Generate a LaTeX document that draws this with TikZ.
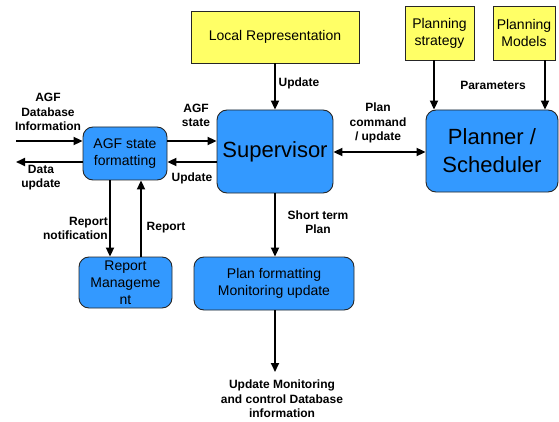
\documentclass[tikz,border=0pt]{standalone}
\usepackage{fontspec}
\setmainfont{Liberation Sans}
\usetikzlibrary{arrows.meta}
\definecolor{boxblue}{HTML}{3399FF}
\definecolor{boxyellow}{HTML}{FFFF66}
\tikzset{
  bluebox/.style={draw=black!85, line width=0.9pt, fill=boxblue, rounded corners=10pt,
    align=center, inner sep=2pt, font=\fontsize{14}{17}\selectfont},
  yellowbox/.style={draw=black!85, line width=0.9pt, fill=boxyellow,
    align=center, inner sep=2pt, font=\fontsize{14}{17}\selectfont},
  bigtext/.style={font=\fontsize{22}{28}\selectfont},
  lbl/.style={align=center, inner sep=0pt, font=\fontsize{12}{14.5}\selectfont\bfseries},
  arr/.style={line width=2pt, -{Triangle[length=9pt,width=8pt]}},
  arrboth/.style={line width=2pt, {Triangle[length=9pt,width=8pt]}-{Triangle[length=9pt,width=8pt]}}
}
\begin{document}
\begin{tikzpicture}[x=1pt, y=-1pt]
\useasboundingbox (0,0) rectangle (559,422);

% top inputs
\node[yellowbox, minimum width=168pt, minimum height=52pt] (loc) at (275,37) {Local Representation};
\node[yellowbox, minimum width=69pt, minimum height=54pt] (strat) at (439.5,33) {Planning\\strategy};
\node[yellowbox, minimum width=62pt, minimum height=54pt] (models) at (524,33) {Planning\\Models};

% processing blocks
\node[bluebox, bigtext, minimum width=116pt, minimum height=83pt] (sup) at (275,151.5) {Supervisor};
\node[bluebox, bigtext, minimum width=132pt, minimum height=82pt] (plan) at (492,151) {Planner /\\Scheduler};
\node[bluebox, minimum width=84pt, minimum height=53pt] (agf) at (125,153.5) {AGF state\\formatting};
\node[bluebox, minimum width=93pt, minimum height=51pt] (rep) at (125.5,282.5) {Report\\Manageme\\nt};
\node[bluebox, minimum width=160pt, minimum height=53pt] (pfm) at (274,283.5) {Plan formatting\\Monitoring update};

% free ends and routing rows/columns
\coordinate (dbin) at (16,141);
\coordinate (dbout) at (16,162);
\coordinate (colstrat) at (434,0);
\coordinate (colmodels) at (545,0);
\coordinate (colnote) at (110,0);
\coordinate (colrep) at (141,0);
\coordinate (colmid) at (275,0);
\coordinate (monout) at (275,372);

% connectors
\draw[arr] (dbin) -- (agf.west |- dbin);
\draw[arr] (agf.west |- dbout) -- (dbout);
\draw[arr] (agf.east |- dbin) -- (sup.west |- dbin);
\draw[arr] (sup.west |- dbout) -- (agf.east |- dbout);
\draw[arr] (loc.south -| colmid) -- (sup.north -| colmid);
\draw[arrboth] (sup.east |- 0,152) -- (plan.west |- 0,152);
\draw[arr] (strat.south -| colstrat) -- (plan.north -| colstrat);
\draw[arr] (models.south -| colmodels) -- (plan.north -| colmodels);
\draw[arr] (sup.south -| colmid) -- (pfm.north -| colmid);
\draw[arr] (pfm.south -| colmid) -- (monout);
\draw[arr] (agf.south -| colnote) -- (rep.north -| colnote);
\draw[arr] (rep.north -| colrep) -- (agf.south -| colrep);

% connector labels
\node[lbl] (ldbin) at (48,112) {AGF\\Database\\Information};
\node[lbl] (ldbout) at (41,177.5) {Data\\update};
\node[lbl] (lstate) at (196,115.5) {AGF\\state};
\node[lbl] (lupd) at (192,178) {Update};
\node[lbl] (lloc) at (299,83) {Update};
\node[lbl] (lcmd) at (378,123) {Plan\\command\\/ update};
\node[lbl] (lpar) at (493,85) {Parameters};
\node[lbl] (lshort) at (318,222) {Short term\\Plan};
\node[lbl, align=right, anchor=east] (lnote) at (108,228.5) {Report\\notification};
\node[lbl] (lrep) at (166,228) {Report};
\node[lbl] (lmon) at (282,399) {Update Monitoring\\and control Database\\information};
\end{tikzpicture}
\end{document}
